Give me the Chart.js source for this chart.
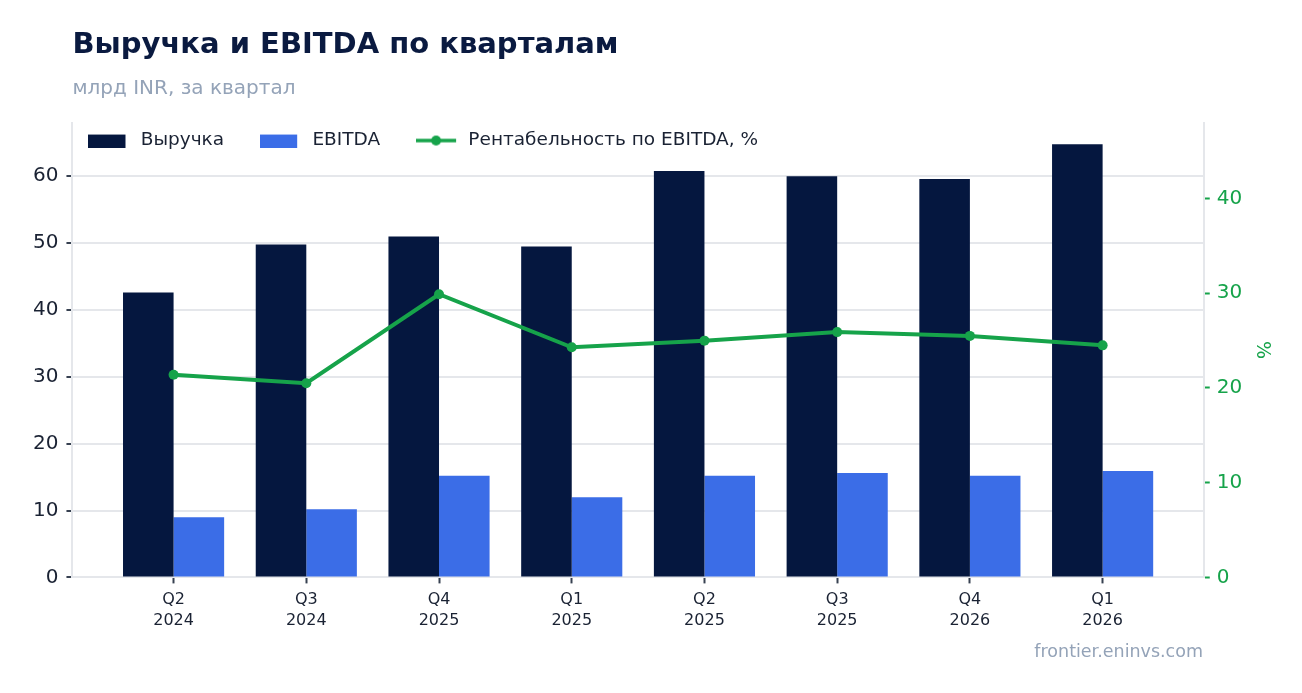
<!DOCTYPE html>
<html lang="ru">
<head>
<meta charset="utf-8">
<title>Выручка и EBITDA по кварталам</title>
<script src="https://cdn.jsdelivr.net/npm/chart.js@4.4.1/dist/chart.umd.min.js"></script>
<style>
  html, body { margin: 0; padding: 0; background: #fff; }
  #wrap { position: relative; width: 1302px; height: 693px; }
  #source {
    position: absolute; right: 99px; top: 641px;
    font: 17.5px 'DejaVu Sans', sans-serif; color: #94a3b8;
  }
</style>
</head>
<body>
<div id="wrap">
  <canvas id="chart"></canvas>
  <div id="source">frontier.eninvs.com</div>
</div>
<script>
// quarters and years of the x axis
const quarters = ['Q2', 'Q3', 'Q4', 'Q1', 'Q2', 'Q3', 'Q4', 'Q1'];
const years = ['2024', '2024', '2025', '2025', '2025', '2025', '2026', '2026'];

// values, bn INR per quarter
const revenue = [42.6, 49.8, 51.0, 49.5, 60.8, 60.0, 59.6, 64.8];
const ebitda = [9.0, 10.2, 15.2, 12.0, 15.2, 15.6, 15.2, 15.9];
// EBITDA margin, %
const margin = [21.4, 20.5, 29.9, 24.3, 25.0, 25.9, 25.5, 24.5];

const NAVY = '#05173f';
const BLUE = '#3b6de7';
const GREEN = '#16a34a';
const GRID = '#e5e7eb';
const INK = '#1a2233';

Chart.defaults.font.family = "'DejaVu Sans', sans-serif";

// little pictures for the legend
const swatch = (kind, color) => {
  const c = document.createElement('canvas');
  c.width = 43; c.height = 14;
  const g = c.getContext('2d');
  if (kind === 'bar') {
    g.fillStyle = color;
    g.fillRect(0, 1, 37, 13);
  } else {
    g.strokeStyle = color;
    g.lineWidth = 3.5;
    g.beginPath(); g.moveTo(0, 7); g.lineTo(40, 7); g.stroke();
    g.fillStyle = color;
    g.beginPath(); g.arc(20, 7, 5, 0, Math.PI * 2); g.fill();
  }
  return c;
};
const swatches = [swatch('bar', NAVY), swatch('bar', BLUE), swatch('line', GREEN)];

const toXY = arr => arr.map((v, i) => ({ x: i, y: v }));

// legend takes no room in the layout and is drawn inside the plot, top-left
const legendInside = {
  id: 'legendInside',
  afterLayout(chart) {
    const lg = chart.legend;
    const area = chart.chartArea;
    lg.left = area.left - 20;
    lg.top = area.top - 27.5;
    lg.right = area.right;
    lg.bottom = lg.top + 90;
    lg.width = lg.right - lg.left;
    lg.height = 90;
  }
};

new Chart(document.getElementById('chart'), {
  type: 'bar',
  data: {
    datasets: [
      { label: 'Выручка', data: toXY(revenue), backgroundColor: NAVY, yAxisID: 'y', order: 2 },
      { label: 'EBITDA', data: toXY(ebitda), backgroundColor: BLUE, yAxisID: 'y', order: 2 },
      {
        type: 'line', label: 'Рентабельность по EBITDA, %', data: toXY(margin), yAxisID: 'y1', order: 1,
        borderColor: GREEN, backgroundColor: GREEN, borderWidth: 4,
        pointRadius: 5, pointBorderWidth: 0, pointBackgroundColor: GREEN, tension: 0
      }
    ]
  },
  options: {
    responsive: true,
    maintainAspectRatio: false,
    animation: false,
    layout: { padding: { left: 25, right: 28, bottom: 56, top: 0 } },
    datasets: { bar: { barPercentage: 1, categoryPercentage: 0.762, borderWidth: 0 } },
    plugins: {
      title: {
        display: true, text: 'Выручка и EBITDA по кварталам', align: 'start', fullSize: false,
        color: '#0a1a40', font: { size: 29, weight: 'bold' }, padding: { top: 28, bottom: 7 }
      },
      subtitle: {
        display: true, text: 'млрд INR, за квартал', align: 'start', fullSize: false,
        color: '#94a3b8', font: { size: 20 }, padding: { top: 7, bottom: 21 }
      },
      legend: {
        position: 'top', align: 'start', fullSize: false, maxHeight: 1,
        labels: {
          usePointStyle: true, pointStyleWidth: 43, padding: 36,
          color: INK, font: { size: 18.5 },
          generateLabels: chart => chart.data.datasets.map((ds, i) => ({
            text: ds.label, pointStyle: swatches[i], fillStyle: 'transparent',
            strokeStyle: 'transparent', lineWidth: 0, fontColor: INK,
            hidden: !chart.isDatasetVisible(i), datasetIndex: i
          }))
        }
      },
      tooltip: { enabled: false }
    },
    scales: {
      x: {
        type: 'linear', offset: false, min: -0.762, max: quarters.length - 1 + 0.762,
        afterBuildTicks: scale => { scale.ticks = quarters.map((q, i) => ({ value: i })); },
        ticks: {
          callback: v => [quarters[v], years[v]],
          color: INK, font: { size: 16, lineHeight: 1.3 }, padding: 6, maxRotation: 0, autoSkip: false
        },
        grid: { offset: false, drawOnChartArea: false, tickLength: 6, tickColor: '#374151', tickWidth: 2 },
        border: { color: GRID, width: 2 }
      },
      y: {
        position: 'left', min: 0, max: 68,
        ticks: { stepSize: 10, includeBounds: false, color: INK, font: { size: 20 }, padding: 8 },
        grid: { color: GRID, lineWidth: 2, tickLength: 6, tickColor: '#374151' },
        border: { color: GRID, width: 2 }
      },
      y1: {
        position: 'right', min: 0, max: 48,
        ticks: { stepSize: 10, includeBounds: false, color: GREEN, font: { size: 20 }, padding: 7 },
        grid: { drawOnChartArea: false, tickLength: 6, tickColor: GREEN, tickWidth: 2 },
        border: { color: GRID, width: 2 },
        title: { display: true, text: '%', color: GREEN, font: { size: 19 }, padding: 1 }
      }
    }
  },
  plugins: [legendInside]
});
</script>
</body>
</html>
